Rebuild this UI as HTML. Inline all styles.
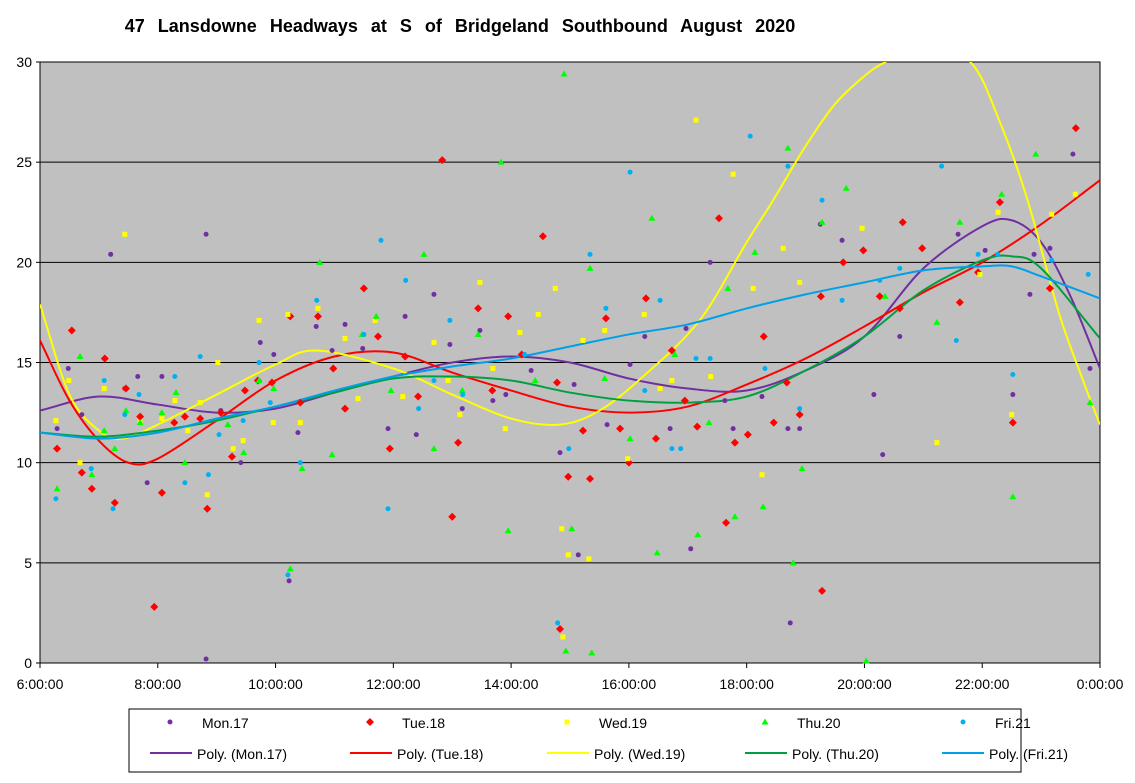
<!DOCTYPE html>
<html><head><meta charset="utf-8">
<style>
body{margin:0;background:#fff;width:1135px;height:778px;overflow:hidden;font-family:"Liberation Sans",Arial,sans-serif;}
svg text{font-family:"Liberation Sans",Arial,sans-serif;}
</style></head>
<body>
<svg id="chart" width="1135" height="778">
<text x="460" y="32" font-size="18" font-weight="bold" text-anchor="middle" word-spacing="8">47 Lansdowne Headways at S of Bridgeland Southbound August 2020</text>
<defs><clipPath id="pc"><rect x="40" y="62" width="1060" height="601"/></clipPath></defs>
<rect x="40" y="62" width="1060" height="601" fill="#c0c0c0" stroke="#000"/>
<g id="grid"></g><g id="axes"></g><g id="trends" clip-path="url(#pc)"></g><g id="pts"></g>
<g id="legend">
<rect x="129" y="709" width="892" height="63" fill="#fff" stroke="#000"/>
</g>
</svg>
<script>
const yTicks=[0,5,10,15,20,25,30];
const xTickHours=[6,8,10,12,14,16,18,20,22,24];
const xTickLabels=["6:00:00","8:00:00","10:00:00","12:00:00","14:00:00","16:00:00","18:00:00","20:00:00","22:00:00","0:00:00"];
const seriesNames=["Mon.17","Tue.18","Wed.19","Thu.20","Fri.21"];
const monPts=[[6.29,11.7],[6.48,14.7],[6.71,12.4],[7.2,20.4],[7.44,13.7],[7.66,14.3],[7.82,9.0],[8.07,14.3],[8.82,21.4],[8.82,0.2],[9.07,12.6],[9.41,10.0],[9.74,16.0],[9.97,15.4],[10.23,4.1],[10.38,11.5],[10.69,16.8],[10.96,15.6],[11.18,16.9],[11.48,15.7],[11.91,11.7],[12.2,17.3],[12.39,11.4],[12.69,18.4],[12.96,15.9],[13.17,12.7],[13.47,16.6],[13.69,13.1],[13.91,13.4],[14.34,14.6],[14.83,10.5],[15.07,13.9],[15.14,5.4],[15.63,11.9],[16.02,14.9],[16.27,16.3],[16.7,11.7],[16.97,16.7],[17.05,5.7],[17.38,20.0],[17.63,13.1],[17.77,11.7],[18.26,13.3],[18.7,11.7],[18.74,2.0],[18.9,11.7],[19.25,21.9],[19.62,21.1],[20.16,13.4],[20.31,10.4],[20.6,16.3],[21.59,21.4],[22.05,20.6],[22.52,13.4],[22.81,18.4],[22.88,20.4],[23.15,20.7],[23.54,25.4],[23.83,14.7]];
const tuePts=[[6.29,10.7],[6.54,16.6],[6.71,9.5],[6.88,8.7],[7.1,15.2],[7.27,8.0],[7.46,13.7],[7.7,12.3],[7.94,2.8],[8.07,8.5],[8.28,12.0],[8.46,12.3],[8.72,12.2],[8.84,7.7],[9.07,12.5],[9.26,10.3],[9.48,13.6],[9.7,14.1],[9.94,14.0],[10.25,17.3],[10.42,13.0],[10.72,17.3],[10.98,14.7],[11.18,12.7],[11.5,18.7],[11.74,16.3],[11.94,10.7],[12.2,15.3],[12.42,13.3],[12.83,25.1],[13.0,7.3],[13.1,11.0],[13.44,17.7],[13.68,13.6],[13.95,17.3],[14.18,15.4],[14.54,21.3],[14.78,14.0],[14.83,1.7],[14.97,9.3],[15.22,11.6],[15.34,9.2],[15.61,17.2],[15.85,11.7],[16.0,10.0],[16.29,18.2],[16.46,11.2],[16.73,15.6],[16.95,13.1],[17.16,11.8],[17.53,22.2],[17.65,7.0],[17.8,11.0],[18.02,11.4],[18.29,16.3],[18.46,12.0],[18.68,14.0],[18.9,12.4],[19.26,18.3],[19.28,3.6],[19.64,20.0],[19.98,20.6],[20.26,18.3],[20.6,17.7],[20.65,22.0],[20.98,20.7],[21.62,18.0],[21.93,19.5],[22.3,23.0],[22.52,12.0],[23.15,18.7],[23.59,26.7]];
const wedPts=[[6.27,12.1],[6.49,14.1],[6.68,10.0],[7.09,13.7],[7.44,21.4],[7.7,12.0],[8.07,12.2],[8.29,13.1],[8.51,11.6],[8.72,13.0],[8.84,8.4],[9.02,15.0],[9.28,10.7],[9.45,11.1],[9.72,17.1],[9.96,12.0],[10.21,17.4],[10.42,12.0],[10.72,17.7],[11.18,16.2],[11.4,13.2],[11.69,17.1],[12.16,13.3],[12.69,16.0],[12.93,14.1],[13.13,12.4],[13.47,19.0],[13.69,14.7],[13.9,11.7],[14.15,16.5],[14.46,17.4],[14.75,18.7],[14.86,6.7],[14.88,1.3],[14.97,5.4],[15.22,16.1],[15.32,5.2],[15.59,16.6],[15.98,10.2],[16.26,17.4],[16.53,13.7],[16.73,14.1],[17.14,27.1],[17.39,14.3],[17.77,24.4],[18.11,18.7],[18.26,9.4],[18.62,20.7],[18.9,19.0],[19.96,21.7],[21.23,11.0],[21.96,19.4],[22.27,22.5],[22.5,12.4],[23.18,22.4],[23.58,23.4]];
const thuPts=[[6.29,8.7],[6.68,15.3],[6.88,9.4],[7.09,11.6],[7.27,10.7],[7.46,12.6],[7.7,12.0],[8.07,12.5],[8.31,13.5],[8.46,10.0],[9.19,11.9],[9.46,10.5],[9.72,14.1],[9.97,13.7],[10.25,4.7],[10.45,9.7],[10.75,20.0],[10.96,10.4],[11.47,16.4],[11.71,17.3],[11.96,13.6],[12.52,20.4],[12.69,10.7],[13.17,13.6],[13.44,16.4],[13.83,25.0],[13.95,6.6],[14.41,14.1],[14.9,29.4],[14.93,0.6],[15.03,6.7],[15.34,19.7],[15.37,0.5],[15.59,14.2],[16.02,11.2],[16.39,22.2],[16.48,5.5],[16.78,15.4],[17.17,6.4],[17.36,12.0],[17.68,18.7],[17.8,7.3],[18.14,20.5],[18.28,7.8],[18.7,25.7],[18.79,5.0],[18.94,9.7],[19.28,22.0],[19.69,23.7],[20.03,0.1],[20.35,18.3],[21.23,17.0],[21.62,22.0],[22.33,23.4],[22.52,8.3],[22.91,25.4],[23.83,13.0]];
const friPts=[[6.27,8.2],[6.87,9.7],[7.09,14.1],[7.24,7.7],[7.44,12.4],[7.68,13.4],[8.29,14.3],[8.46,9.0],[8.72,15.3],[8.86,9.4],[9.04,11.4],[9.45,12.1],[9.72,15.0],[9.91,13.0],[10.21,4.4],[10.42,10.0],[10.7,18.1],[11.5,16.4],[11.79,21.1],[11.91,7.7],[12.21,19.1],[12.43,12.7],[12.69,14.1],[12.96,17.1],[13.18,13.4],[14.23,15.4],[14.79,2.0],[14.98,10.7],[15.34,20.4],[15.61,17.7],[16.02,24.5],[16.27,13.6],[16.53,18.1],[16.73,10.7],[16.88,10.7],[17.14,15.2],[17.38,15.2],[18.06,26.3],[18.31,14.7],[18.7,24.8],[18.9,12.7],[19.28,23.1],[19.62,18.1],[20.26,19.1],[20.6,19.7],[21.31,24.8],[21.56,16.1],[21.93,20.4],[22.26,20.4],[22.52,14.4],[23.18,20.1],[23.8,19.4]];
// trendline values
const monTrend=[[6,12.6],[7,13.3],[8,12.9],[9,12.5],[10,12.7],[11,13.5],[12,14.3],[13,15.0],[14,15.3],[15,15.0],[16,14.2],[17,13.7],[18,13.6],[19,14.6],[20,16.3],[21,19.7],[22,21.8],[22.5,22.1],[23,21.0],[23.5,18.3],[24,14.7]];
const tueTrend=[[6,16.1],[6.5,13.1],[7,11.1],[7.5,10.0],[8,10.2],[9,12.1],[10,14.1],[11,15.3],[12,15.5],[13,14.5],[14,13.6],[15,12.8],[16,12.5],[17,12.8],[18,13.9],[19,15.2],[20,16.8],[21,18.5],[22,20.0],[23,21.9],[24,24.1]];
const wedTrend=[[6,17.9],[6.5,13.4],[7,11.6],[7.4,11.2],[8,11.9],[9,13.4],[10,14.9],[10.7,15.6],[12,14.7],[13,13.4],[14,12.2],[14.83,11.9],[15.5,12.6],[16.24,14.3],[17.2,17.1],[18,21.0],[18.45,23.1],[19,25.8],[19.5,27.9],[20,29.3],[20.35,30.0],[21,31.0],[21.8,30.0],[22.3,27.0],[22.77,23.1],[23.3,17.5],[23.7,14.2],[24,11.9]];
const thuTrend=[[6,11.5],[7,11.3],[8,11.6],[9,12.1],[10,12.8],[11,13.5],[12,14.2],[13,14.3],[14,14.1],[15,13.5],[16,13.1],[17,13.0],[18,13.3],[19,14.6],[20,16.3],[21,18.6],[22,20.1],[22.5,20.3],[23,19.7],[24,16.2]];
const friTrend=[[6,11.5],[7,11.2],[8,11.5],[9,12.2],[10,12.8],[11,13.6],[12,14.3],[13,14.8],[14,15.2],[15,15.8],[16,16.4],[17,16.9],[18,17.7],[19,18.4],[20,19.0],[21,19.6],[22,19.8],[22.5,19.8],[23,19.3],[24,18.2]];

const NS="http://www.w3.org/2000/svg";
const X=h=>40+(h-6)*1060/18, Y=v=>663-v*601/30;
function mk(tag,attrs,parent){const e=document.createElementNS(NS,tag);for(const k in attrs)e.setAttribute(k,attrs[k]);parent.appendChild(e);return e;}
const grid=document.getElementById('grid'),axes=document.getElementById('axes');
yTicks.forEach(v=>{
 if(v>0&&v<30){const l=mk('line',{x1:40,x2:1100,y1:Y(v),y2:Y(v),stroke:'#000'},grid);
 
 }
 const t=mk('text',{x:32,y:Y(v)+5,'font-size':14,'text-anchor':'end'},axes);t.textContent=v;
 
 
 mk('line',{x1:36,x2:40,y1:Y(v),y2:Y(v),stroke:'#000'},axes);
});
xTickHours.forEach((h,i)=>{
 const t=mk('text',{x:X(h),y:689,'font-size':14,'text-anchor':'middle'},axes);t.textContent=xTickLabels[i];
 
 
 mk('line',{x1:X(h),x2:X(h),y1:663,y2:668,stroke:'#000'},axes);
});
const cols={mark:['#7030a0','#ff0000','#ffff00','#00ff00','#00b0f0'],line:['#7030a0','#ff0000','#ffff00','#00a040','#00a0e8']};
function marker(i,x,y,parent){
 const c=cols.mark[i];let e;
 if(i===0||i===4)e=mk('circle',{cx:x,cy:y,r:2.5,fill:c},parent);
 else if(i===1)e=mk('polygon',{points:`${x},${y-4} ${x+4},${y} ${x},${y+4} ${x-4},${y}`,fill:c},parent);
 else if(i===2)e=mk('rect',{x:x-2.5,y:y-2.5,width:5,height:5,fill:c},parent);
 else e=mk('polygon',{points:`${x},${y-3.5} ${x+3.5},${y+2.5} ${x-3.5},${y+2.5}`,fill:c},parent);
 return e;
}
const allPts=[monPts,tuePts,wedPts,thuPts,friPts];
const allTr=[monTrend,tueTrend,wedTrend,thuTrend,friTrend];
const pg=document.getElementById('pts');
allPts.forEach((arr,i)=>arr.forEach(p=>{
 const e=marker(i,X(p[0]),Y(p[1]),pg);
 
 
}));
function smooth(pts){
 const P=pts.map(p=>[X(p[0]),Y(p[1])]);let d=`M${P[0][0]},${P[0][1]}`;
 for(let i=0;i<P.length-1;i++){
  const p1=P[i],p2=P[i+1];
  const p0=P[i-1]||[2*p1[0]-p2[0],2*p1[1]-p2[1]];
  const p3=P[i+2]||[2*p2[0]-p1[0],2*p2[1]-p1[1]];
  d+=` C${p1[0]+(p2[0]-p0[0])/6},${p1[1]+(p2[1]-p0[1])/6} ${p2[0]-(p3[0]-p1[0])/6},${p2[1]-(p3[1]-p1[1])/6} ${p2[0]},${p2[1]}`;}
 return d;
}
const tg=document.getElementById('trends');
allTr.forEach((arr,i)=>{
 const e=mk('path',{d:smooth(arr),fill:'none',stroke:cols.line[i],'stroke-width':2},tg);
 
 
});
const lg=document.getElementById('legend');
const mx=[170,370,567,765,963];
const lx=[150,350,547,745,942];
seriesNames.forEach((n,i)=>{
 const m=marker(i,mx[i],722,lg);
 
 
 const t=mk('text',{x:mx[i]+32,y:728,'font-size':14},lg);t.textContent=n;
 
 
 const l=mk('line',{x1:lx[i],x2:lx[i]+42,y1:753,y2:753,stroke:cols.line[i],'stroke-width':2},lg);
 
 
 const t2=mk('text',{x:lx[i]+47,y:759,'font-size':14},lg);t2.textContent='Poly. ('+n+')';
 
 
});
</script>
</body></html>
